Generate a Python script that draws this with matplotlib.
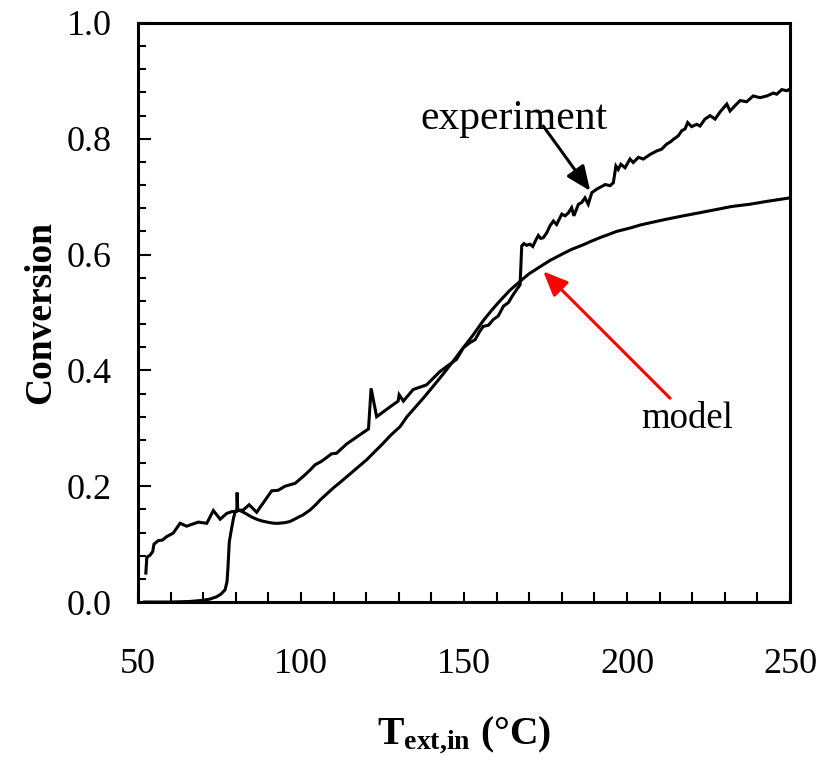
import matplotlib
matplotlib.use("Agg")
import matplotlib.pyplot as plt
from matplotlib.ticker import MultipleLocator

plt.rcParams["font.family"] = ["Liberation Serif", "DejaVu Serif"]
plt.rcParams["mathtext.fontset"] = "custom"
plt.rcParams["mathtext.rm"] = "Liberation Serif"
plt.rcParams["mathtext.bf"] = "Liberation Serif:bold"

# measured conversion vs. inlet temperature
exp_T = [52.4, 52.7, 53.7, 54.5, 54.9, 56.2, 57.5, 58.8, 60.8, 62.9, 64.9, 68.5,
         71.1, 73.1, 75.2, 77.2, 78.7, 80.3, 80.4, 80.6, 82.3, 84.1, 86.4, 91.0,
         93.0, 95.1, 98.2, 100.7, 102.8, 104.3, 106.3, 109.4, 110.9, 114.0, 117.6,
         120.7, 121.5, 123.2, 127.3, 129.8, 130.1, 131.4, 134.4, 138.5, 142.6,
         146.2, 147.7, 149.8, 151.8, 153.4, 154.9, 155.9, 157.5, 159.0, 160.5,
         162.1, 163.6, 165.1, 166.2, 167.2, 167.7, 168.4, 169.2, 170.2, 171.1,
         172.1, 172.8, 173.5, 174.3, 175.4, 176.4, 177.4, 178.4, 180.0, 181.0,
         182.0, 183.0, 183.7, 185.1, 186.1, 187.1, 188.1, 189.2, 190.7, 191.7,
         193.3, 194.8, 195.8, 196.6, 197.3, 198.1, 199.4, 200.9, 201.9, 203.5,
         205.0, 207.1, 209.1, 210.6, 212.2, 213.4, 214.2, 215.7, 216.8, 217.8,
         218.6, 219.8, 221.4, 222.4, 223.9, 225.5, 227.0, 228.5, 230.6, 231.6,
         233.1, 234.7, 236.7, 238.7, 240.8, 242.9, 244.9, 245.9, 247.5, 249.0,
         250.0]
exp_X = [0.050, 0.077, 0.081, 0.087, 0.100, 0.106, 0.107, 0.113, 0.119, 0.136,
         0.131, 0.138, 0.136, 0.158, 0.143, 0.153, 0.156, 0.157, 0.189, 0.158,
         0.159, 0.168, 0.155, 0.192, 0.193, 0.200, 0.205, 0.217, 0.228, 0.237,
         0.243, 0.256, 0.257, 0.273, 0.287, 0.299, 0.369, 0.320, 0.337, 0.347,
         0.358, 0.347, 0.367, 0.375, 0.398, 0.413, 0.419, 0.439, 0.448, 0.453,
         0.468, 0.476, 0.478, 0.488, 0.494, 0.511, 0.517, 0.531, 0.540, 0.548,
         0.615, 0.619, 0.616, 0.618, 0.614, 0.626, 0.633, 0.628, 0.629, 0.638,
         0.650, 0.658, 0.652, 0.670, 0.667, 0.672, 0.681, 0.667, 0.687, 0.690,
         0.698, 0.687, 0.707, 0.713, 0.716, 0.721, 0.719, 0.724, 0.753, 0.747,
         0.756, 0.750, 0.765, 0.759, 0.768, 0.765, 0.773, 0.779, 0.782, 0.791,
         0.795, 0.799, 0.805, 0.814, 0.817, 0.828, 0.821, 0.825, 0.822, 0.834,
         0.840, 0.834, 0.846, 0.860, 0.848, 0.857, 0.866, 0.864, 0.874, 0.871,
         0.874, 0.879, 0.877, 0.885, 0.883, 0.886]

# model prediction
mod_T = [52.0, 60.0, 66.0, 70.0, 72.0, 74.1, 75.5, 76.7, 77.3, 77.6, 78.0, 78.7,
         79.3, 79.8, 80.8, 82.0, 83.3, 84.8, 86.4, 88.0, 90.5, 91.8, 93.0, 95.0,
         96.6, 98.0, 99.7, 100.5, 102.8, 104.5, 106.0, 109.9, 112.5, 115.0,
         117.5, 120.2, 122.5, 125.0, 127.5, 130.4, 132.5, 135.0, 137.5, 140.6,
         143.5, 146.7, 149.2, 152.9, 155.9, 158.5, 161.0, 164.0, 167.2, 170.0,
         173.3, 176.4, 180.5, 183.0, 186.6, 189.0, 192.0, 194.0, 196.8, 201.0,
         204.0, 207.1, 212.0, 217.3, 222.0, 227.5, 232.0, 237.7, 243.0, 250.0]
mod_X = [0.000, 0.000, 0.001, 0.003, 0.005, 0.009, 0.014, 0.021, 0.035, 0.060,
         0.104, 0.127, 0.145, 0.156, 0.159, 0.156, 0.152, 0.147, 0.143, 0.140,
         0.137, 0.136, 0.136, 0.137, 0.139, 0.143, 0.148, 0.150, 0.159, 0.168,
         0.177, 0.197, 0.209, 0.221, 0.233, 0.246, 0.259, 0.273, 0.288, 0.303,
         0.320, 0.336, 0.352, 0.373, 0.393, 0.416, 0.435, 0.462, 0.486, 0.504,
         0.520, 0.538, 0.554, 0.567, 0.579, 0.590, 0.602, 0.609, 0.617, 0.623,
         0.630, 0.634, 0.640, 0.646, 0.651, 0.655, 0.661, 0.667, 0.672, 0.678,
         0.683, 0.687, 0.692, 0.698]

fig = plt.figure(figsize=(8.22, 7.61), dpi=100)
ax = fig.add_axes([0.1679, 0.2089, 0.7932, 0.7609])

ax.plot(exp_T, exp_X, color="black", lw=2.2, solid_joinstyle="miter")
ax.plot(mod_T, mod_X, color="black", lw=2.2, solid_joinstyle="round")

ax.set_xlim(50, 250)
ax.set_ylim(0, 1.0)
ax.xaxis.set_major_locator(MultipleLocator(50))
ax.xaxis.set_minor_locator(MultipleLocator(10))
ax.yaxis.set_major_locator(MultipleLocator(0.2))
ax.yaxis.set_minor_locator(MultipleLocator(0.04))
ax.yaxis.set_major_formatter(plt.FormatStrFormatter("%.1f"))

for s in ax.spines.values():
    s.set_linewidth(2.2)
ax.tick_params(axis="both", which="both", direction="in", labelsize=26,
               width=1.5)
ax.tick_params(axis="x", which="both", length=7, pad=33)
ax.tick_params(axis="y", which="major", length=9, pad=19)
ax.tick_params(axis="y", which="minor", length=6)

ax.set_xlabel(r"$\mathbf{T_{ext{,}in}}$ (°C)", fontsize=28.5, fontweight="bold",
              labelpad=24)
ax.set_ylabel("Conversion", fontsize=27, fontweight="bold", labelpad=6)

ax.annotate("", xy=(188.7, 0.710), xytext=(174.3, 0.822),
            arrowprops=dict(arrowstyle="-|>,head_length=0.75,head_width=0.32",
                            mutation_scale=20, color="black", lw=2.2,
                            shrinkA=0, shrinkB=0))
ax.text(165.2, 0.817, "experiment", fontsize=30, ha="center", va="baseline")

ax.annotate("", xy=(174.3, 0.571), xytext=(213.2, 0.352),
            arrowprops=dict(arrowstyle="-|>,head_length=0.75,head_width=0.32",
                            mutation_scale=20, color="red", lw=2.2,
                            shrinkA=0, shrinkB=0))
ax.text(218.5, 0.301, "model", fontsize=26.5, ha="center", va="baseline")

fig.savefig("out.png", dpi=100)
